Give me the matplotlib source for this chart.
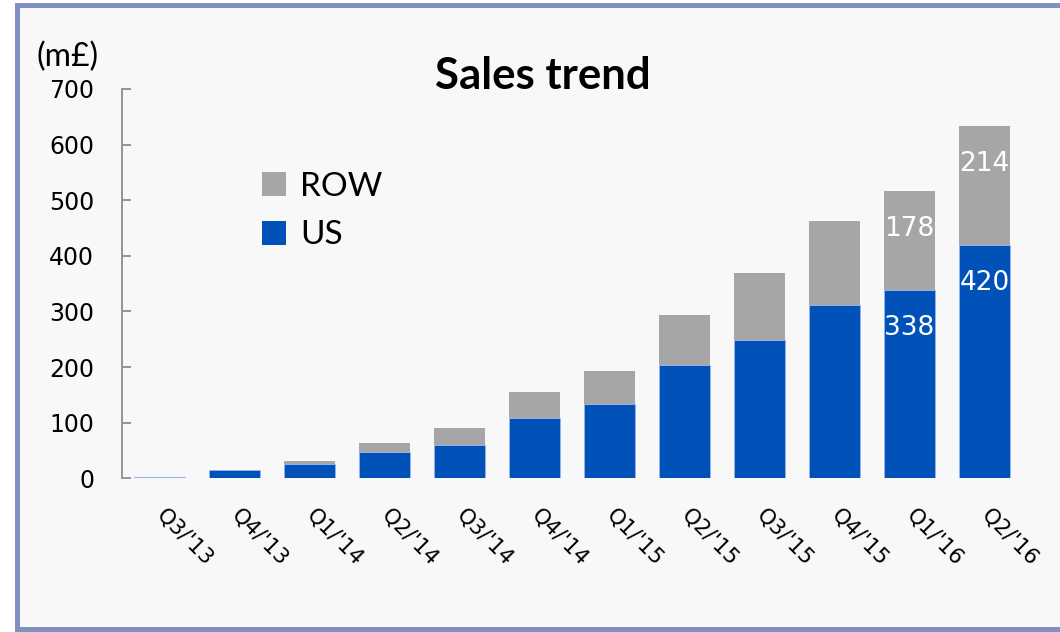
import matplotlib.pyplot as plt
from matplotlib.patches import Patch, Rectangle

quarters = ["Q3/'13", "Q4/'13", "Q1/'14", "Q2/'14", "Q3/'14", "Q4/'14",
            "Q1/'15", "Q2/'15", "Q3/'15", "Q4/'15", "Q1/'16", "Q2/'16"]
us = [3, 15, 26, 47, 59, 109, 134, 204, 249, 312, 338, 420]
row = [0, 0, 5, 16, 31, 47, 59, 90, 120, 151, 178, 214]
labelled = [10, 11]

US_COLOR = "#0052B8"
ROW_COLOR = "#A6A6A6"
BG = "#F8F8F8"

fig = plt.figure(figsize=(10.6, 6.32), dpi=100)
fig.patch.set_facecolor("white")

# outer frame of the slide panel
fig.patches.append(Rectangle((16.5 / 1060, 3.5 / 632), 1.2, 624 / 632,
                             transform=fig.transFigure, facecolor=BG,
                             edgecolor="#8090C0", linewidth=3.6, zorder=-1))

ax = fig.add_axes([122 / 1060, 1 - 478.3 / 632, 900 / 1060, (478.3 - 89) / 632])
ax.set_facecolor("none")
ax.set_zorder(2)

x = range(len(quarters))
ax.bar(x, row, width=0.667, bottom=us, color=ROW_COLOR, edgecolor="none", label="ROW")
ax.bar(x, us, width=0.667, color=US_COLOR, edgecolor="#9DB8EA", linewidth=0.5, label="US")

for i in labelled:
    ax.annotate(str(us[i]), (i, us[i]), xytext=(0, -32.4), textcoords="offset points",
                ha="center", va="baseline", color="white", fontsize=19)
    ax.annotate(str(row[i]), (i, us[i] + row[i]), xytext=(0, -32.4), textcoords="offset points",
                ha="center", va="baseline", color="white", fontsize=19)

ax.set_xlim(-0.5, len(quarters) - 0.5)
ax.set_ylim(0, 700)
ax.set_yticks(range(0, 701, 100))
ax.set_xticks(list(x))
ax.set_xticklabels(quarters, rotation=-45, ha="left", va="center",
                   rotation_mode="anchor", fontsize=15.5)
ax.tick_params(axis="x", length=0, pad=24)
ax.tick_params(axis="y", direction="in", length=6.5, width=1.3, color="#8C8C8C",
               pad=20, labelsize=17)
for side in ["top", "right", "bottom"]:
    ax.spines[side].set_visible(False)
ax.spines["left"].set_color("#8C8C8C")
ax.spines["left"].set_linewidth(1.3)

fig.text(543 / 1060, 1 - 76 / 632, "Sales trend", ha="center", va="center",
         fontsize=31.5, fontweight="bold", family="Lato")
fig.text(37 / 1060, 1 - 57 / 632, "(m£)", ha="left", va="center", fontsize=23, family="Lato")

handles = [Patch(facecolor=ROW_COLOR, label="ROW"), Patch(facecolor=US_COLOR, label="US")]
ax.legend(handles=handles, loc="upper left", bbox_to_anchor=(262 / 1060, 1 - 172 / 632),
          bbox_transform=fig.transFigure, frameon=False, prop={"family": "Lato", "size": 24},
          handlelength=0.72, handleheight=0.72, handletextpad=0.42, labelspacing=0.55,
          borderpad=0, borderaxespad=0)

fig.savefig("out.png", dpi=100, facecolor=fig.get_facecolor())
